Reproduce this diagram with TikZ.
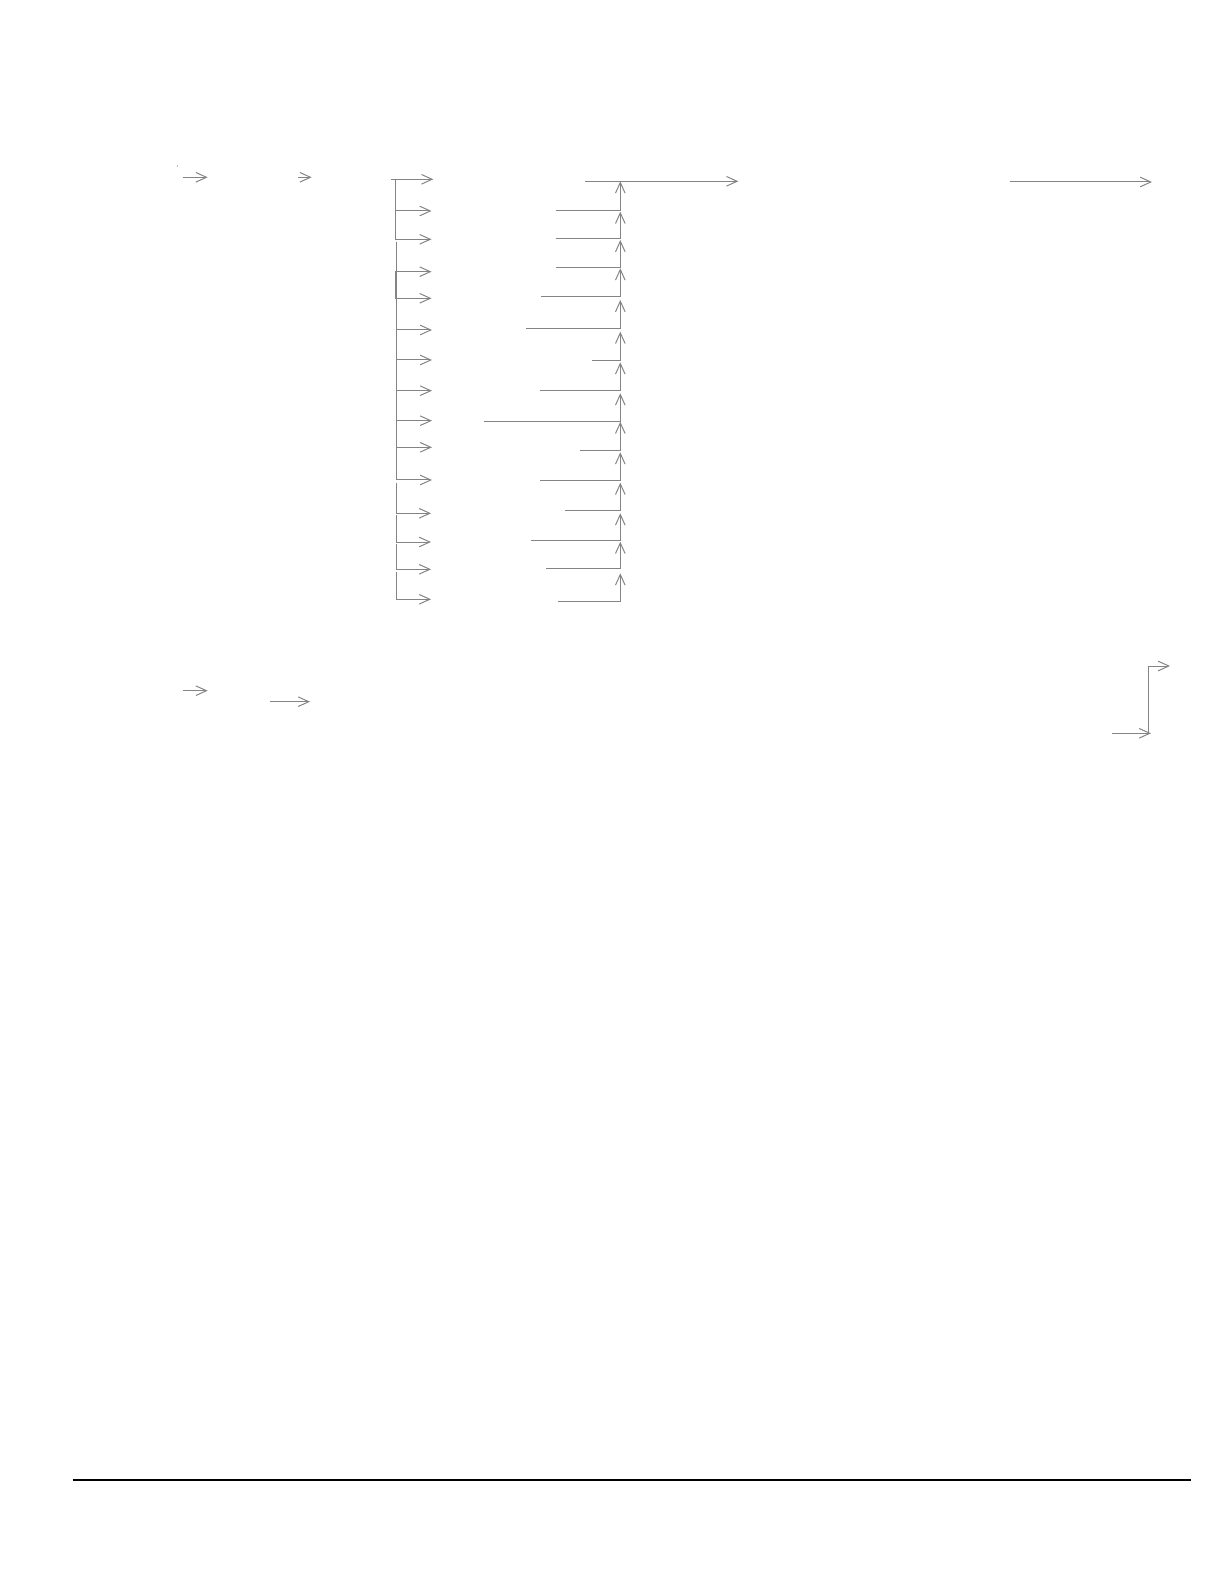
\documentclass[tikz,border=0pt]{standalone}
\usetikzlibrary{arrows.meta}
\definecolor{linegray}{RGB}{132,132,132}
\tikzset{
  conn/.style={draw=linegray, line width=0.5pt, -{Straight Barb[length=5.3pt,width=4.8pt,line width=0.5pt]}},
  plain/.style={draw=linegray, line width=0.5pt},
  rule/.style={draw=black, line width=1pt}
}
\begin{document}
\begin{tikzpicture}[x=0.5pt,y=-0.5pt]
\useasboundingbox (0,0) rectangle (1224,1582);
% tiny dot
\fill[linegray] (177.3,166) circle (0.35pt);
% top-left arrows
\coordinate (a1s) at (182.7,177.3); \coordinate (a1e) at (207.7,177.3);
\coordinate (a2s) at (298,177.3);   \coordinate (a2e) at (311.7,177.3);
\draw[conn] (a1s) -- (a1e);
\draw[conn] (a2s) -- (a2e);
% left bracket, first group
\coordinate (l0s) at (390.7,179.3); \coordinate (l0e) at (433.3,179.3);
\draw[conn] (l0s) -- (l0e);
\draw[plain] (395.3,179.3) -- (395.3,239.3);
\foreach \y in {211,239.3} \draw[conn] (395.3,\y) -- (431.5,\y);
% small bracket
\draw[plain] (395,271.7) -- (395,298.3);
\foreach \y in {271.7,298.3} \draw[conn] (395,\y) -- (431.5,\y);
% long vertical
\draw[plain] (396.3,241.7) -- (396.3,480);
\foreach \y in {330,360,390.7,420.7,447.3,480} \draw[conn] (396.3,\y) -- (432,\y);
% short segments
\foreach \t/\b in {482.7/513.3,515.3/542,544/569.3,572/599.3}
  \draw[conn] (396.3,\t) -- (396.3,\b) -- (431,\b);
% right column: horizontal lines joining and going up
\coordinate (r0s) at (585,181.3); \coordinate (r0e) at (738.3,181.3);
\draw[conn] (r0s) -- (r0e);
\foreach \xs/\y/\tip in {555.7/210.3/181.3, 555.7/238.3/211.7, 555.7/267.3/240,
  541/297/268.3, 526/328.3/300, 591.7/360.3/331.7, 540/391/362.3, 484/421.3/393.3,
  580/450.3/421.7, 540/480.3/452.3, 565/511/482.7, 531/540/513.3, 546/568.3/541.7,
  558.3/601.7/573.3}
  \draw[conn] (\xs,\y) -- (620.3,\y) -- (620.3,\tip);
% far right top arrow
\coordinate (fr1) at (1010,182); \coordinate (fr2) at (1152,182);
\draw[conn] (fr1) -- (fr2);
% bottom-left arrows
\coordinate (b1s) at (182.7,690.7); \coordinate (b1e) at (207.7,690.7);
\coordinate (b2s) at (270,701.7);   \coordinate (b2e) at (310,701.7);
\draw[conn] (b1s) -- (b1e);
\draw[conn] (b2s) -- (b2e);
% right elbow
\coordinate (e1) at (1111.7,733.3); \coordinate (e2) at (1151,733.3);
\coordinate (e3) at (1148.7,733.3); \coordinate (e4) at (1148.7,666); \coordinate (e5) at (1170,666);
\draw[conn] (e1) -- (e2);
\draw[conn] (e3) -- (e4) -- (e5);
% bottom rule
\coordinate (h1) at (72.6,1480); \coordinate (h2) at (1190.6,1480);
\draw[rule] (h1) -- (h2);
\end{tikzpicture}
\end{document}
